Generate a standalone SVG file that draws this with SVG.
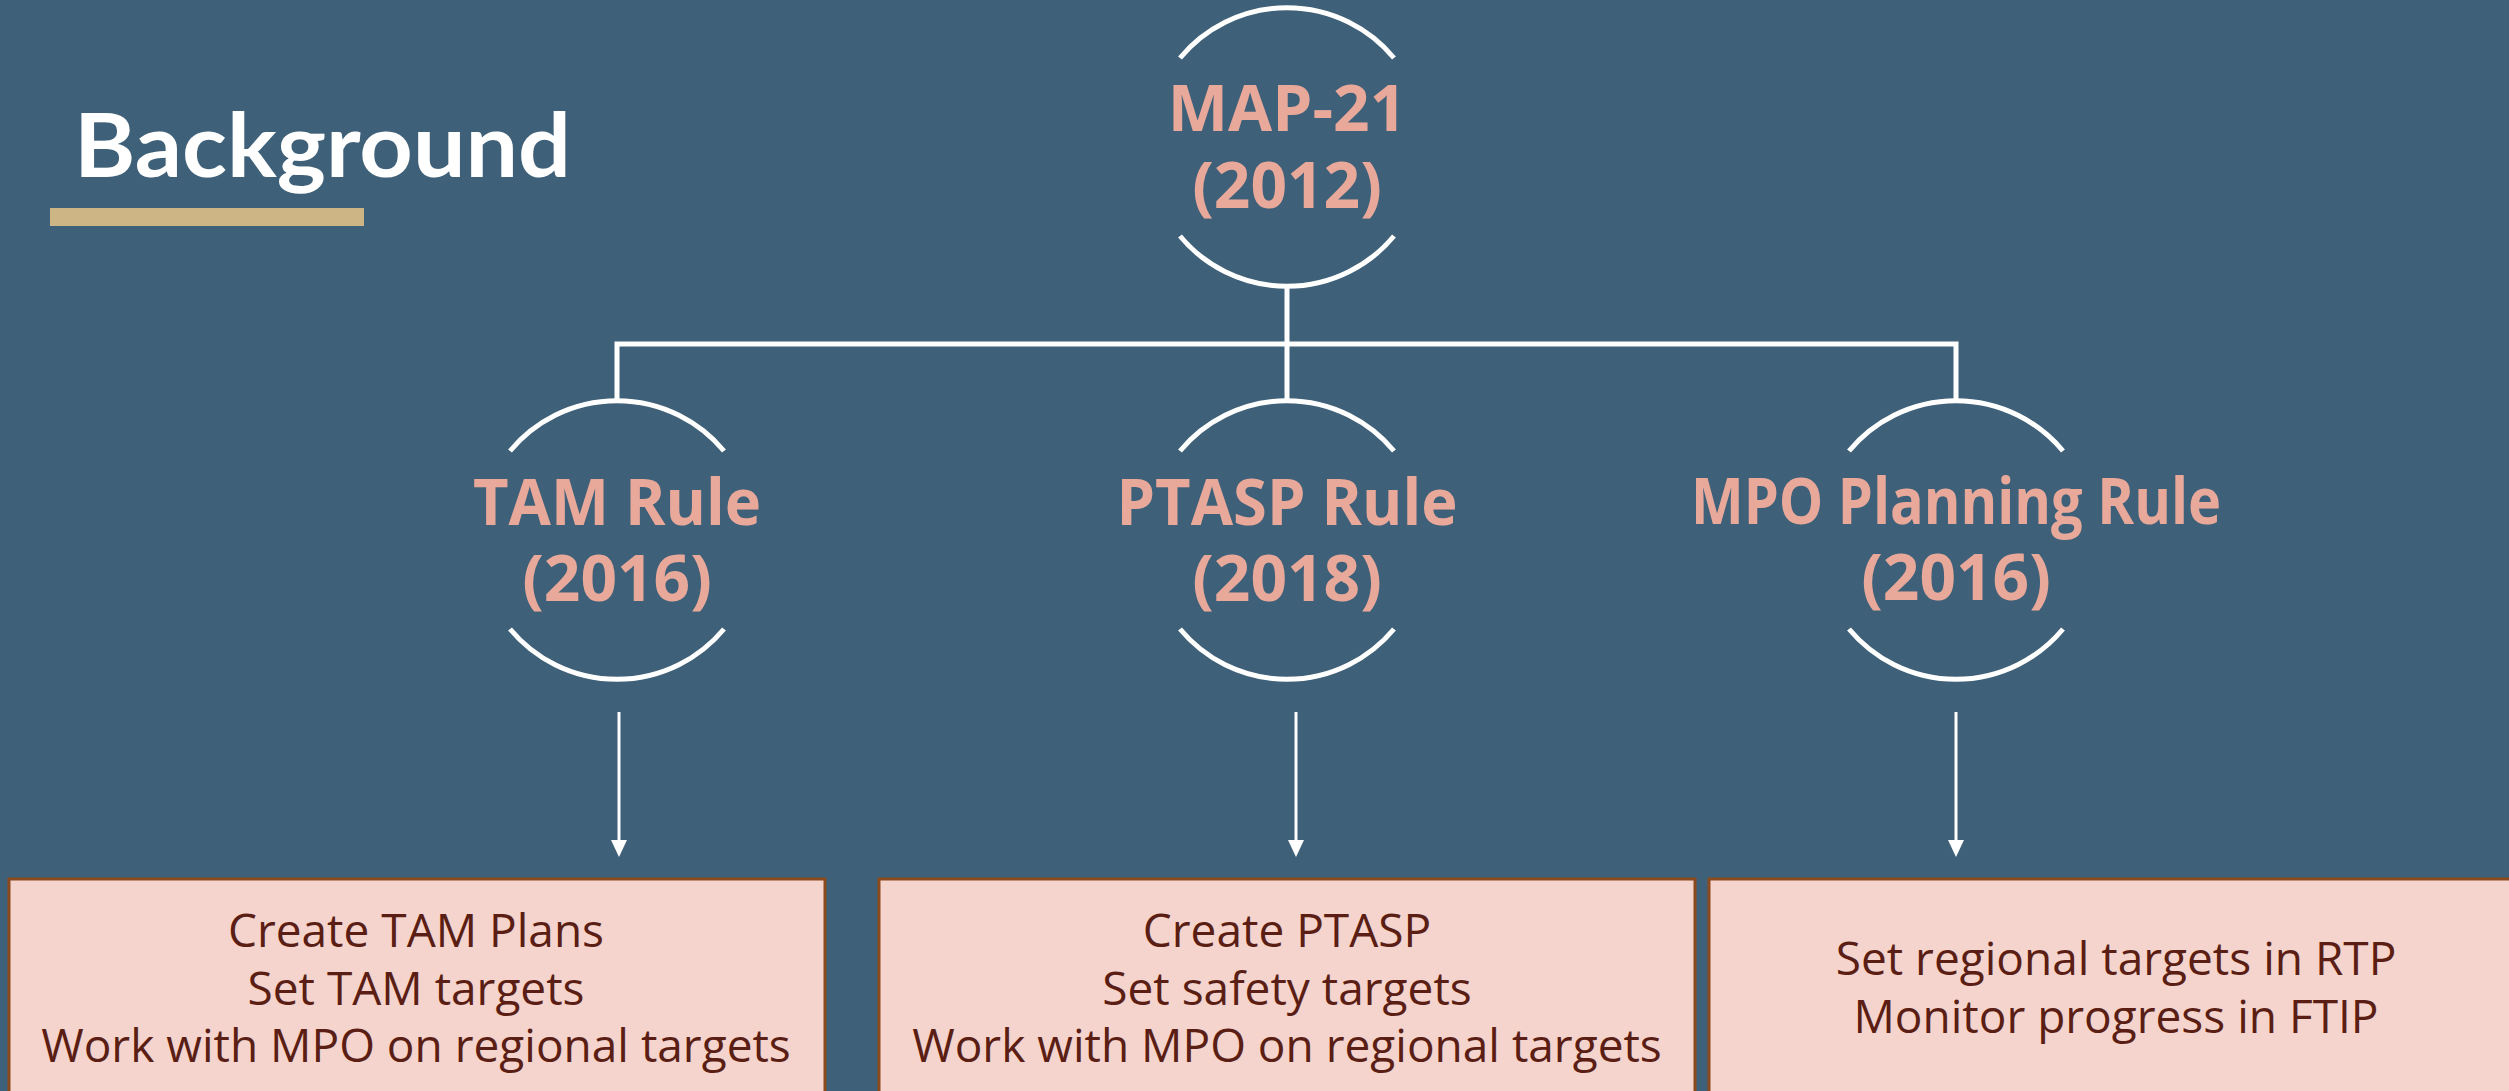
<svg xmlns="http://www.w3.org/2000/svg" width="2509" height="1091" viewBox="0 0 2509 1091">
<defs>
<style>
.bg{fill:#3F6079}
.arc{fill:none;stroke:#FFFFFF;stroke-width:5}
.conn{fill:none;stroke:#FFFFFF;stroke-width:5}
.arrow{fill:none;stroke:#FFFFFF;stroke-width:3}
.head{fill:#FFFFFF}
.lbl{font-family:"Open Sans","Noto Sans",sans-serif;font-weight:700;font-size:64px;fill:#E9A99A;text-anchor:middle}
.box{fill:#F5D4CD;stroke:#8B4A1E;stroke-width:3}
.btxt{font-family:"Open Sans","Noto Sans",sans-serif;font-size:46px;fill:#5A1E14;text-anchor:middle}
.title{font-family:"Lato","DejaVu Sans",sans-serif;font-weight:700;font-size:88px;fill:#FFFFFF}
</style>
</defs>
<rect class="bg" x="0" y="0" width="2509" height="1091"/>
<g id="title">
<text class="title" x="74" y="177" textLength="497" lengthAdjust="spacingAndGlyphs">Background</text>
<rect x="50" y="208" width="314" height="18" fill="#CDB585"/>
</g>
<g id="connectors">
<polyline class="conn" points="1287,286 1287,344"/>
<polyline class="conn" points="617,402 617,344 1956,344 1956,402"/>
<polyline class="conn" points="1287,344 1287,402"/>
<line class="arrow" x1="619" y1="712" x2="619" y2="843"/>
<polygon class="head" points="611,840 627,840 619,857"/>
<line class="arrow" x1="1296" y1="712" x2="1296" y2="843"/>
<polygon class="head" points="1288,840 1304,840 1296,857"/>
<line class="arrow" x1="1956" y1="712" x2="1956" y2="843"/>
<polygon class="head" points="1948,840 1964,840 1956,857"/>
</g>
<g id="map21">
<path class="arc" d="M1180,58 A139,139 0 0 1 1394,58"/>
<path class="arc" d="M1180,236 A139,139 0 0 0 1394,236"/>
<text class="lbl" x="1287" y="131">MAP-21</text>
<text class="lbl" x="1287" y="208">(2012)</text>
</g>
<g id="tam">
<path class="arc" d="M510,451 A139,139 0 0 1 724,451"/>
<path class="arc" d="M510,629 A139,139 0 0 0 724,629"/>
<text class="lbl" x="617" y="525" textLength="288" lengthAdjust="spacingAndGlyphs">TAM Rule</text>
<text class="lbl" x="617" y="601">(2016)</text>
</g>
<g id="ptasp">
<path class="arc" d="M1180,451 A139,139 0 0 1 1394,451"/>
<path class="arc" d="M1180,629 A139,139 0 0 0 1394,629"/>
<text class="lbl" x="1287" y="525" textLength="341" lengthAdjust="spacingAndGlyphs">PTASP Rule</text>
<text class="lbl" x="1287" y="601">(2018)</text>
</g>
<g id="mpo">
<path class="arc" d="M1849,451 A139,139 0 0 1 2063,451"/>
<path class="arc" d="M1849,629 A139,139 0 0 0 2063,629"/>
<text class="lbl" x="1956" y="524" textLength="530" lengthAdjust="spacingAndGlyphs">MPO Planning Rule</text>
<text class="lbl" x="1956" y="600">(2016)</text>
</g>
<g id="box-tam">
<rect class="box" x="9" y="879" width="816" height="230"/>
<text class="btxt" x="416" y="947">Create TAM Plans</text>
<text class="btxt" x="416" y="1005">Set TAM targets</text>
<text class="btxt" x="416" y="1062">Work with MPO on regional targets</text>
</g>
<g id="box-ptasp">
<rect class="box" x="879" y="879" width="816" height="230"/>
<text class="btxt" x="1287" y="947">Create PTASP</text>
<text class="btxt" x="1287" y="1005">Set safety targets</text>
<text class="btxt" x="1287" y="1062">Work with MPO on regional targets</text>
</g>
<g id="box-mpo">
<rect class="box" x="1709" y="879" width="816" height="230"/>
<text class="btxt" x="2116" y="975">Set regional targets in RTP</text>
<text class="btxt" x="2116" y="1033">Monitor progress in FTIP</text>
</g>
</svg>
